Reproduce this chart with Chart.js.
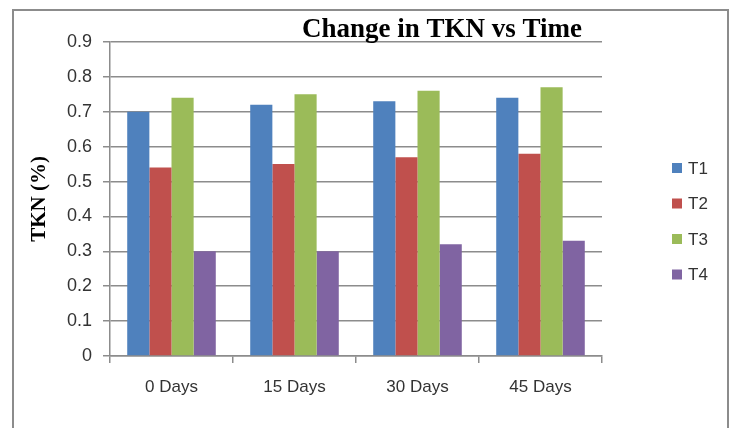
<!DOCTYPE html>
<html lang="en">
<head>
    <meta charset="UTF-8">
    <title>Change in TKN vs Time</title>
    <script src="https://cdn.jsdelivr.net/npm/chart.js@4.4.1/dist/chart.umd.min.js"></script>
    <style>
        body { margin: 0; background: #fff; }
        #wrap { position: relative; width: 735px; height: 428px; overflow: hidden; }
        #frame { position: absolute; left: 12px; top: 9px; width: 713px; height: 500px;
                 border: 2px solid #8c8c8c; border-bottom: none; }
        #tkn { position: absolute; left: 0; top: 0; }
    </style>
</head>
<body>
    <div id="wrap">
        <div id="frame"></div>
        <canvas id="tkn" width="735" height="428"></canvas>
    </div>

    <script>
        const days = ['0 Days', '15 Days', '30 Days', '45 Days'];
        const seriesNames = ['T1', 'T2', 'T3', 'T4'];
        const t1 = [0.70, 0.72, 0.73, 0.74];
        const t2 = [0.54, 0.55, 0.57, 0.58];
        const t3 = [0.74, 0.75, 0.76, 0.77];
        const t4 = [0.30, 0.30, 0.32, 0.33];
        const colors = ['#4F81BD', '#C0504D', '#9BBB59', '#8064A2'];
        const chartTitle = 'Change in TKN vs Time';
        const yTitle = 'TKN (%)';

        const sans = '"Liberation Sans", Arial, sans-serif';
        const serif = '"Liberation Serif", "Times New Roman", serif';
        const gridColor = '#8c8c8c';

        // title + legend drawn by hand so they sit where the original has them
        const extras = {
            id: 'extras',
            afterDraw(chart) {
                const ctx = chart.ctx;
                const area = chart.chartArea;
                ctx.save();
                ctx.fillStyle = '#000';
                ctx.font = 'bold 27px ' + serif;
                ctx.textAlign = 'center';
                ctx.textBaseline = 'alphabetic';
                ctx.fillText(chartTitle, 442, 37);

                ctx.font = '17px ' + sans;
                ctx.textAlign = 'left';
                ctx.textBaseline = 'middle';
                chart.data.datasets.forEach((ds, i) => {
                    const y = 168 + i * 35.5;
                    ctx.fillStyle = ds.backgroundColor;
                    ctx.fillRect(area.right + 70, y - 5, 10, 10);
                    ctx.fillStyle = '#333';
                    ctx.fillText(ds.label, area.right + 86, y + 1);
                });
                ctx.restore();
            }
        };

        const allSeries = [t1, t2, t3, t4];

        new Chart(document.getElementById('tkn'), {
            type: 'bar',
            data: {
                labels: days,
                datasets: allSeries.map((vals, i) => ({
                    label: seriesNames[i],
                    data: vals,
                    backgroundColor: colors[i],
                    borderWidth: 0,
                    barPercentage: 1,
                    categoryPercentage: 0.72
                }))
            },
            options: {
                responsive: false,
                animation: false,
                layout: { padding: { left: 14, top: 42, right: 133, bottom: 0 } },
                plugins: {
                    legend: { display: false },
                    title: { display: false },
                    tooltip: { enabled: false }
                },
                scales: {
                    x: {
                        afterFit(scale) { scale.height = 72; },
                        grid: {
                            display: true,
                            drawOnChartArea: false,
                            offset: true,
                            tickLength: 7,
                            color: gridColor,
                            lineWidth: 1.5
                        },
                        border: { color: gridColor, width: 1.5 },
                        ticks: {
                            color: '#333',
                            font: { family: sans, size: 17 },
                            padding: 14
                        }
                    },
                    y: {
                        min: 0,
                        max: 0.9,
                        afterFit(scale) { scale.width = 96; },
                        ticks: {
                            stepSize: 0.1,
                            color: '#333',
                            font: { family: sans, size: 18 },
                            padding: 11
                        },
                        grid: {
                            color: gridColor,
                            lineWidth: 1.5,
                            tickLength: 7
                        },
                        border: { color: gridColor, width: 1.5 },
                        title: {
                            display: true,
                            text: yTitle,
                            color: '#000',
                            font: { family: serif, size: 21, weight: 'bold' },
                            padding: { top: 13, bottom: 0 }
                        }
                    }
                }
            },
            plugins: [extras]
        });
    </script>
</body>
</html>
